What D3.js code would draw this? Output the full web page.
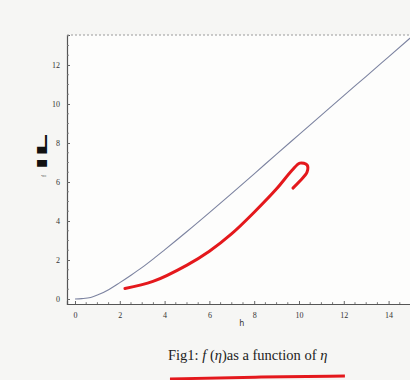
<!DOCTYPE html>
<html>
<head>
<meta charset="utf-8">
<script src="https://cdn.jsdelivr.net/npm/d3@7"></script>
<style>
  html, body { margin: 0; padding: 0; background: #f6f6f4; }
  svg { display: block; }
</style>
</head>
<body>
<svg id="chart"></svg>
<script>
// f(eta) curve
const etaValues = [0, 0.3, 0.7, 1, 1.5, 2, 2.5, 3, 3.5, 4, 5, 6, 7, 8, 9, 10, 11, 12, 13, 14, 15, 15.3];
const fValues = [0, 0.02, 0.08, 0.2, 0.48, 0.84, 1.22, 1.62, 2.06, 2.52, 3.46, 4.43, 5.42, 6.42, 7.43, 8.43, 9.43, 10.43, 11.42, 12.42, 13.42, 13.72];

// red hand-drawn annotation stroke (in chart units)
const markEta = [2.23, 3.48, 5.0, 6.0, 7.0, 8.0, 9.0, 9.69, 10.04, 10.36, 10.36, 10.04, 9.73];
const markF = [0.54, 0.9, 1.74, 2.45, 3.35, 4.45, 5.65, 6.6, 6.97, 6.87, 6.51, 6.05, 5.69];

// red underline below the caption
const underlineEta = [4.24, 8, 12.05];
const underlineF = [-4.1, -4.0, -3.95];

const xTicks = [0, 2, 4, 6, 8, 10, 12, 14];
const yTicks = [0, 2, 4, 6, 8, 10, 12];

const width = 410, height = 380;
const margin = { top: 35, right: 0, bottom: 76, left: 67 };

const svg = d3.select("#chart").attr("width", width).attr("height", height);

// scales: eta=0 at x=75, 22.4 px/unit; f=0 at y=299, 19.5 px/unit
const x = d3.scaleLinear().domain([-0.357, 15.179]).range([margin.left, 415]);
const y = d3.scaleLinear().domain([-0.256, 13.538]).range([height - margin.bottom, margin.top]);

// plot area
svg.append("rect")
    .attr("x", margin.left).attr("y", margin.top)
    .attr("width", width - margin.left).attr("height", height - margin.bottom - margin.top)
    .attr("fill", "#fdfdfc");

// x axis (ticks pointing inward)
const xAxis = d3.axisBottom(x).tickValues(xTicks).tickSize(-3).tickPadding(8).tickFormat(d3.format("d"));
const gx = svg.append("g")
    .attr("transform", `translate(0, ${height - margin.bottom})`)
    .call(xAxis);
gx.select(".domain").attr("stroke", "#555").attr("stroke-width", 1.2);
gx.selectAll(".tick line").attr("stroke", "#666");
gx.selectAll("text").attr("fill", "#333").style("font-family", "'Liberation Serif', serif").style("font-size", "8px");

const xMinor = d3.range(0, 15.01, 0.5).filter(v => v % 2 !== 0);
gx.selectAll(".minor").data(xMinor).join("line")
    .attr("class", "minor")
    .attr("x1", d => x(d)).attr("x2", d => x(d))
    .attr("y1", 0).attr("y2", -1.8)
    .attr("stroke", "#777");

// y axis
const yAxis = d3.axisLeft(y).tickValues(yTicks).tickSize(-3).tickPadding(7).tickFormat(d3.format("d"));
const gy = svg.append("g")
    .attr("transform", `translate(${margin.left}, 0)`)
    .call(yAxis);
gy.select(".domain").attr("stroke", "#555").attr("stroke-width", 1.2);
gy.selectAll(".tick line").attr("stroke", "#666");
gy.selectAll("text").attr("fill", "#333").style("font-family", "'Liberation Serif', serif").style("font-size", "8px");

const yMinor = d3.range(0, 13.51, 0.5).filter(v => v % 2 !== 0);
gy.selectAll(".minor").data(yMinor).join("line")
    .attr("class", "minor")
    .attr("x1", 0).attr("x2", 1.8)
    .attr("y1", d => y(d)).attr("y2", d => y(d))
    .attr("stroke", "#777");

// top frame, faint dotted
svg.append("line")
    .attr("x1", margin.left).attr("x2", width)
    .attr("y1", margin.top).attr("y2", margin.top)
    .attr("stroke", "#9a9a9a").attr("stroke-width", 1)
    .attr("stroke-dasharray", "2,2");

// f(eta) curve
const line = d3.line()
    .x((d, i) => x(etaValues[i]))
    .y((d, i) => y(fValues[i]))
    .curve(d3.curveMonotoneX);

svg.append("path")
    .datum(fValues)
    .attr("fill", "none")
    .attr("stroke", "#7c83a0")
    .attr("stroke-width", 1.1)
    .attr("d", line);

// red annotation
const markLine = d3.line()
    .x((d, i) => x(markEta[i]))
    .y((d, i) => y(markF[i]))
    .curve(d3.curveCatmullRom);

svg.append("path")
    .datum(markF)
    .attr("fill", "none")
    .attr("stroke", "#e4181c")
    .attr("stroke-width", 3)
    .attr("stroke-linecap", "round")
    .attr("stroke-linejoin", "round")
    .attr("d", markLine);

// axis labels
svg.append("text")
    .attr("x", x(7.45)).attr("y", 326)
    .attr("text-anchor", "middle")
    .style("font-family", "'DejaVu Sans', sans-serif")
    .style("font-size", "8px")
    .attr("fill", "#333")
    .text("h");

svg.append("text")
    .attr("transform", "translate(47, 152) rotate(-90)")
    .attr("text-anchor", "middle")
    .style("font-family", "'DejaVu Sans', sans-serif")
    .style("font-weight", "bold")
    .style("font-size", "14px")
    .attr("textLength", 36)
    .attr("lengthAdjust", "spacingAndGlyphs")
    .attr("fill", "#111")
    .text("IL");

svg.append("text")
    .attr("transform", "translate(46, 176) rotate(-90)")
    .attr("text-anchor", "middle")
    .style("font-family", "'Liberation Serif', serif")
    .style("font-size", "6px")
    .attr("fill", "#444")
    .text("f");

// caption
const caption = svg.append("text")
    .attr("x", 168).attr("y", 360)
    .style("font-family", "'Liberation Serif', serif")
    .style("font-size", "14.5px")
    .attr("fill", "#222");
caption.append("tspan").text("Fig1:  ");
caption.append("tspan").style("font-style", "italic").text("f ");
caption.append("tspan").text("(");
caption.append("tspan").style("font-style", "italic").text("η");
caption.append("tspan").text(")as a function of ");
caption.append("tspan").style("font-style", "italic").text("η");

// red underline
const underline = d3.line()
    .x((d, i) => x(underlineEta[i]))
    .y((d, i) => y(underlineF[i]))
    .curve(d3.curveBasis);

svg.append("path")
    .datum(underlineF)
    .attr("fill", "none")
    .attr("stroke", "#e4181c")
    .attr("stroke-width", 3)
    .attr("d", underline);
</script>
</body>
</html>
